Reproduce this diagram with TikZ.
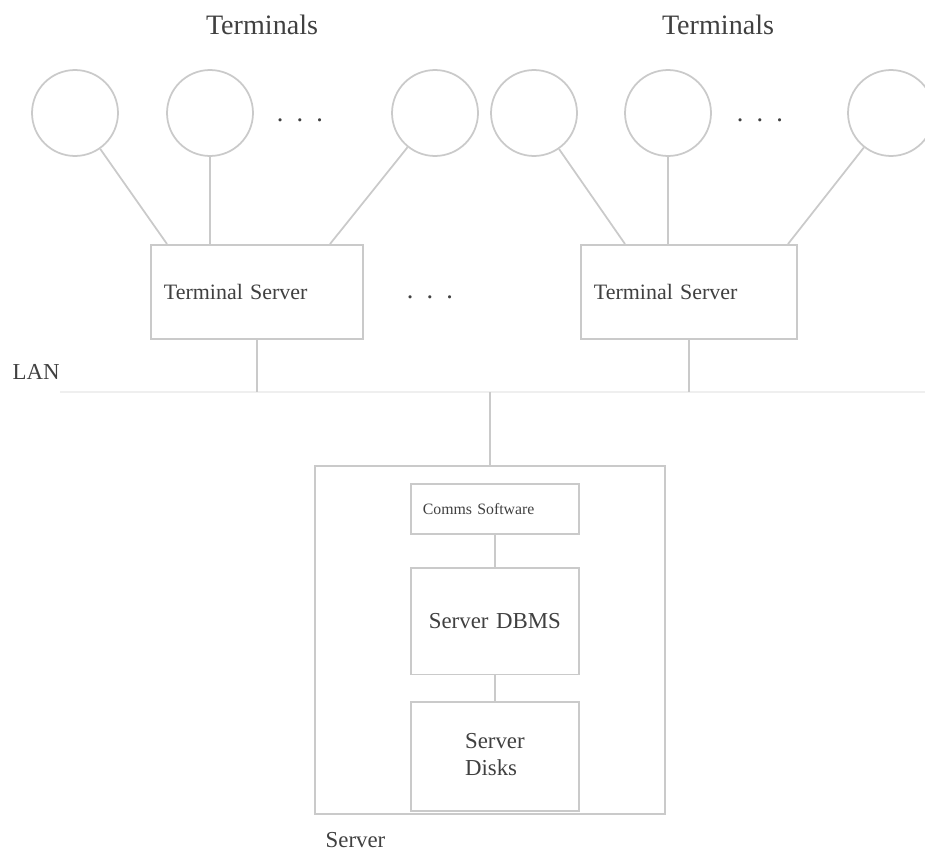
\documentclass[tikz,border=0pt]{standalone}
\usepackage{fontspec}
\setmainfont{Liberation Serif}
\usetikzlibrary{positioning,calc}
\definecolor{cLine}{HTML}{CACACA}
\definecolor{cInk}{HTML}{404040}
\definecolor{cLan}{HTML}{EFEFEF}

\begin{document}
\begin{tikzpicture}[x=0.02cm,y=-0.02cm,line width=1pt,
      term/.style={circle,draw=cLine,minimum size=1.72cm,inner sep=0pt},
      tsrv/.style={draw=cLine,minimum height=1.88cm,inner xsep=0.26cm,align=left,text=cInk,
        font=\fontsize{12.5}{15}\selectfont},
      sbox/.style={draw=cLine,minimum width=3.36cm,text width=3.36cm-0.48cm,inner xsep=0.24cm,text=cInk},
      lbl/.style={text=cInk,font=\fontsize{13}{15}\selectfont},
      dots/.style={text=cInk,font=\fontsize{15}{17}\selectfont}]
    \useasboundingbox (0,0) rectangle (925,855);
    % terminals
    \node[lbl,font=\fontsize{16}{18}\selectfont] (lt1) at (262,25) {Terminals};
    \node[lbl,font=\fontsize{16}{18}\selectfont] (lt2) at (718,25) {Terminals};
    \foreach \x [count=\i] in {75,210,435,534,668,891}
      \node[term] (t\i) at (\x,113) {};
    \node[dots] (d1) at (300,120) {.\ \ .\ \ .};
    \node[dots] (d2) at (760,120) {.\ \ .\ \ .};
    % terminal servers
    \node[tsrv,anchor=north west,text width=4.24cm-0.52cm] (ts1) at (150,244) {Terminal Server};
    \node[tsrv,anchor=north west,text width=4.32cm-0.52cm] (ts2) at (580,244) {Terminal Server};
    \node[dots] (d3) at (430,297) {.\ \ .\ \ .};
    \draw[cLine] (t1) -- ($(ts1.north west)+(17,0)$);
    \draw[cLine] (t2) -- (t2 |- ts1.north);
    \draw[cLine] (t3) -- ($(ts1.north west)+(180,0)$);
    \draw[cLine] (t4) -- ($(ts2.north west)+(45,0)$);
    \draw[cLine] (t5) -- (t5 |- ts2.north);
    \draw[cLine] (t6) -- ($(ts2.north west)+(208,0)$);
    % LAN
    \node[lbl,anchor=west] (lan) at (6,372) {LAN};
    \coordinate (lanL) at (60,392);
    \coordinate (lanR) at (925,392);
    \draw[cLan] (lanL) -- (lanR);
    \draw[cLine] (ts1.south) -- (ts1.south |- lanL);
    \draw[cLine] (ts2.south) -- (ts2.south |- lanL);
    % server
    \node[draw=cLine,anchor=north west,minimum width=7cm,minimum height=6.96cm] (srv) at (314,465) {};
    \node[lbl,anchor=west] (srvl) at (319,840) {Server};
    \draw[cLine] (srv.north) -- (srv.north |- lanL);
    \node[sbox,anchor=north west,minimum height=1cm,align=left,
      font=\fontsize{9}{11}\selectfont] (comms) at (410,483) {Comms Software};
    \node[sbox,below=0.64cm of comms,minimum height=2.14cm,align=center,
      font=\fontsize{13}{15}\selectfont] (dbms) {Server DBMS};
    \node[sbox,below=0.52cm of dbms,minimum height=2.18cm,align=center,
      font=\fontsize{13}{15}\selectfont] (disks) {\begin{tabular}{@{}l@{}}Server\\ Disks\end{tabular}};
    \draw[cLine] (comms) -- (dbms);
    \draw[cLine] (dbms) -- (disks);
  \end{tikzpicture}
\end{document}
